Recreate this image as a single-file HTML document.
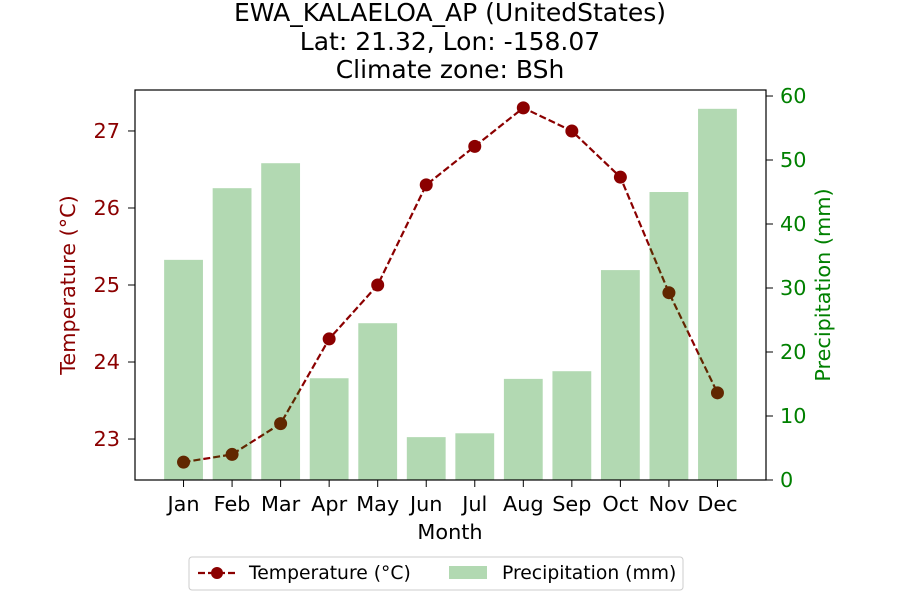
<!DOCTYPE html>
<html><head><meta charset="utf-8"><style>
body{margin:0;background:#fff;}
svg{display:block;font-family:"DejaVu Sans","Liberation Sans",sans-serif;}
</style></head><body>
<svg id="chart" width="900" height="600" viewBox="0 0 900 600">
<g font-size="25" text-anchor="middle" fill="#000">
<text x="450" y="21">EWA_KALAELOA_AP (UnitedStates)</text>
<text x="450" y="50">Lat: 21.32, Lon: -158.07</text>
<text x="450" y="78">Climate zone: BSh</text>
</g>
<g id="line"></g>
<g id="bars"></g>
<rect x="135" y="90" width="631" height="390" fill="none" stroke="#000" stroke-width="1.2"/>
<g id="xaxis" font-size="20.8" text-anchor="middle"></g>
<g id="yleft" font-size="20.8" text-anchor="end" fill="#8b0000"></g>
<g id="yright" font-size="20.8" text-anchor="start" fill="#008000"></g>
<text x="450" y="539" font-size="20.8" text-anchor="middle">Month</text>
<text transform="translate(75,285) rotate(-90)" font-size="20.8" text-anchor="middle" fill="#8b0000">Temperature (°C)</text>
<text transform="translate(830,285) rotate(-90)" font-size="20.8" text-anchor="middle" fill="#008000">Precipitation (mm)</text>
<g>
<rect x="189" y="557" width="494" height="33" rx="3" fill="#fff" stroke="#ccc"/>
<g>
<line x1="198" y1="573" x2="236" y2="573" stroke="#8b0000" stroke-width="2.2" stroke-dasharray="7,3"/>
<circle cx="217" cy="573" r="6" fill="#8b0000"/>
<text x="249" y="579" font-size="18.75">Temperature (°C)</text>
</g>
<g>
<rect x="449" y="566" width="38" height="13" fill="#008000" fill-opacity="0.3"/>
<text x="502" y="579" font-size="18.75">Precipitation (mm)</text>
</g>
</g>
</svg>
<script>
const months=["Jan","Feb","Mar","Apr","May","Jun","Jul","Aug","Sep","Oct","Nov","Dec"];
const temps=[22.7,22.8,23.2,24.3,25.0,26.3,26.8,27.3,27.0,26.4,24.9,23.6];
const precip=[34.4,45.6,49.5,15.9,24.5,6.7,7.3,15.8,17.0,32.8,45.0,58.0];
const tempTicks=[23,24,25,26,27];
const precipTicks=[0,10,20,30,40,50,60];
const NS="http://www.w3.org/2000/svg";
const L=135,R=766,T=90,B=480;
const xS=i=>L+(i+1)*(R-L)/13;
const yT=v=>B-(v-22.468)/(27.532-22.468)*(B-T);
const yP=v=>B-v/60.94*(B-T);
function mk(tag,attrs,parent){const e=document.createElementNS(NS,tag);for(const k in attrs)e.setAttribute(k,attrs[k]);parent.appendChild(e);return e;}
const bars=document.getElementById('bars');
const bw=0.8*(R-L)/13;
precip.forEach((v,i)=>{const r=mk('rect',{x:xS(i)-bw/2,y:yP(v),width:bw,height:B-yP(v),fill:'#008000','fill-opacity':0.3},bars);

});
const lg=document.getElementById('line');
const pl=mk('polyline',{points:temps.map((v,i)=>xS(i)+','+yT(v)).join(' '),fill:'none',stroke:'#8b0000','stroke-width':2.2,'stroke-dasharray':'7,3'},lg);


temps.forEach((v,i)=>{const c=mk('circle',{cx:xS(i),cy:yT(v),r:6.5,fill:'#8b0000'},lg);

});
const xa=document.getElementById('xaxis');
months.forEach((m,i)=>{mk('line',{x1:xS(i),x2:xS(i),y1:B,y2:B+7,stroke:'#000'},xa);
const t=mk('text',{x:xS(i),y:B+31},xa);t.textContent=m;

});
const yl=document.getElementById('yleft');
tempTicks.forEach(v=>{mk('line',{x1:L-7,x2:L,y1:yT(v),y2:yT(v),stroke:'#000'},yl);
const t=mk('text',{x:L-15,y:yT(v)+7},yl);t.textContent=v;

});
const yr=document.getElementById('yright');
precipTicks.forEach(v=>{mk('line',{x1:R,x2:R+7,y1:yP(v),y2:yP(v),stroke:'#000'},yr);
const t=mk('text',{x:R+14,y:yP(v)+7},yr);t.textContent=v;

});
</script>
</body></html>
